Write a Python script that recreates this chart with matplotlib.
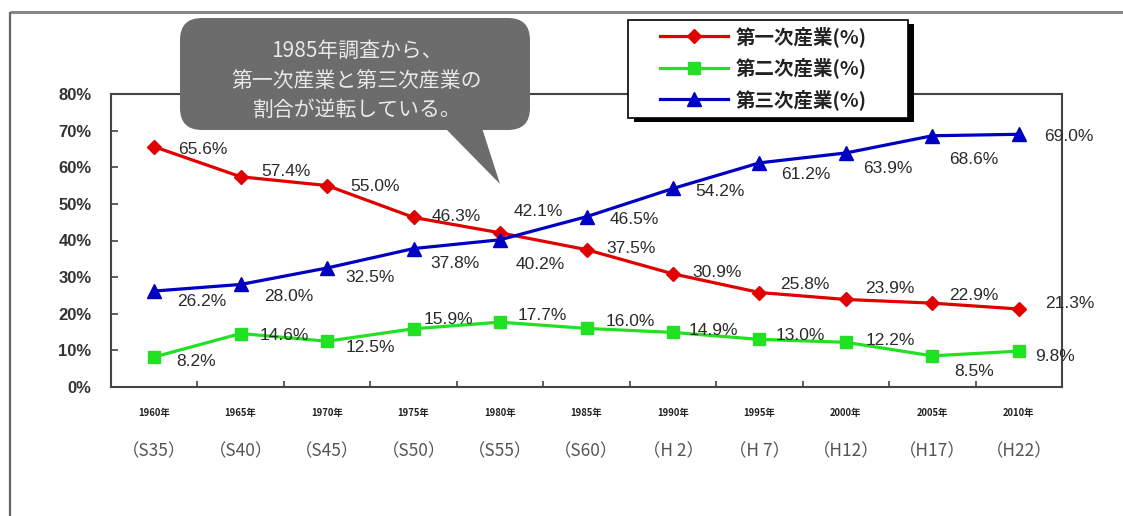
import matplotlib
matplotlib.use("Agg")
import matplotlib.pyplot as plt
from matplotlib.patches import FancyBboxPatch, Polygon, Rectangle
from matplotlib.transforms import blended_transform_factory

# ---------------- data ----------------
years = ["1960年", "1965年", "1970年", "1975年", "1980年", "1985年",
         "1990年", "1995年", "2000年", "2005年", "2010年"]
eras = ["（S35）", "（S40）", "（S45）", "（S50）", "（S55）", "（S60）",
        "（H 2）", "（H 7）", "（H12）", "（H17）", "（H22）"]
primary = [65.6, 57.4, 55.0, 46.3, 42.1, 37.5, 30.9, 25.8, 23.9, 22.9, 21.3]
secondary = [8.2, 14.6, 12.5, 15.9, 17.7, 16.0, 14.9, 13.0, 12.2, 8.5, 9.8]
tertiary = [26.2, 28.0, 32.5, 37.8, 40.2, 46.5, 54.2, 61.2, 63.9, 68.6, 69.0]
series_names = ["第一次産業(%)", "第二次産業(%)", "第三次産業(%)"]
yticks = [0, 10, 20, 30, 40, 50, 60, 70, 80]
callout_lines = ["1985年調査から、", "第一次産業と第三次産業の", "割合が逆転している。"]

# label offsets (pixels, +y = down) – layout only
off_primary = [(49, 3), (45, -5), (48, 1), (43, -1), (38, -21), (45, -1),
               (44, -1), (45, -8), (44, -11), (41, -8), (51, -5)]
off_secondary = [(42, 5), (44, 2), (43, 6), (35, -9), (42, -7), (44, -7),
                 (40, -2), (41, -4), (44, -2), (42, 16), (36, 5)]
off_tertiary = [(48, 10), (48, 12), (43, 10), (41, 15), (40, 25), (48, 3),
                (47, 3), (46, 12), (42, 16), (41, 24), (50, 2)]

W, H = 1123, 516
fig = plt.figure(figsize=(W / 100, H / 100), dpi=100)
fig.patch.set_facecolor("white")

ax = fig.add_axes([111 / W, 129 / H, 951 / W, 293 / H])
x = list(range(len(years)))

cols = ["#e00000", "#22e022", "#0000c0"]
markers = ["D", "s", "^"]
msizes = [7.5, 8, 9.5]
lines = []
for vals, c, m, ms, nm in zip([primary, secondary, tertiary], cols, markers, msizes, series_names):
    ln, = ax.plot(x, vals, color=c, lw=2.3, marker=m, ms=ms, mec=c, mfc=c, label=nm, zorder=3)
    lines.append(ln)

label_font = dict(family="Liberation Sans", size=12.5, color="#2a2a2a")
for vals, offs in zip([primary, secondary, tertiary], [off_primary, off_secondary, off_tertiary]):
    for xi, v, (dx, dy) in zip(x, vals, offs):
        ax.annotate(f"{v:.1f}%", (xi, v), xytext=(dx, -dy), textcoords="offset pixels",
                    ha="center", va="center", zorder=4, **label_font)

ax.set_xlim(-0.5, len(years) - 0.5)
ax.set_ylim(0, 80)
ax.set_yticks(yticks)
ax.set_yticklabels([f"{t}%" for t in yticks], family="Liberation Sans",
                   fontweight="bold", fontsize=12, color="#333333")
ax.tick_params(axis="y", direction="in", length=5, width=1.2, color="#444444", pad=14)
ax.set_xticks(x)
ax.set_xticklabels(years, family="Noto Sans CJK JP", fontweight="bold", fontsize=6.8, color="#222222")
ax.tick_params(axis="x", which="major", length=0, pad=15)
ax.set_xticks([i + 0.5 for i in x[:-1]], minor=True)
ax.tick_params(axis="x", which="minor", direction="in", length=4, width=1.2, color="#444444")
for s in ax.spines.values():
    s.set_color("#444444")
    s.set_linewidth(1.5)

tr = blended_transform_factory(ax.transData, fig.transFigure)
for xi, e in zip(x, eras):
    ax.text(xi, 1 - 451 / H, e, transform=tr, ha="center", va="center",
            family="Noto Sans CJK JP", fontsize=12.5, color="#555555")

# ---------------- overlay (pixel coordinates) ----------------
ov = fig.add_axes([0, 0, 1, 1], zorder=10)
ov.set_xlim(0, W)
ov.set_ylim(H, 0)
ov.axis("off")
ov.patch.set_alpha(0)

# outer frame
ov.plot([10, W], [12, 12], color="#888888", lw=2.2, solid_capstyle="butt")
ov.plot([10, 10], [12, H], color="#666666", lw=1.6, solid_capstyle="butt")

# callout bubble
bubble_col = "#6c6c6c"
ov.add_patch(FancyBboxPatch((180, 18), 350, 112, boxstyle="round,pad=0,rounding_size=22",
                            fc=bubble_col, ec="none", zorder=5))
ov.add_patch(Polygon([(445, 128), (482, 128), (500, 184)], closed=True,
                     fc=bubble_col, ec="none", zorder=5))
for yy, t in zip([51, 81, 110], callout_lines):
    ov.text(357, yy, t, ha="center", va="center", family="Noto Sans CJK JP",
            fontsize=15, color="#e8e8e8", zorder=6)

# legend box with shadow
ov.add_patch(Rectangle((634, 24), 280, 98, fc="black", ec="none", zorder=5))
ov.add_patch(Rectangle((628, 20), 280, 98, fc="white", ec="black", lw=1.2, zorder=6))
leg = ov.legend(handles=lines, loc="upper left", bbox_to_anchor=(660, 26),
                bbox_transform=ov.transData, frameon=False, borderpad=0,
                borderaxespad=0, handlelength=3.5, handletextpad=0.4,
                labelspacing=0.55, prop=dict(family="Noto Sans CJK JP", size=14, weight="bold"))
leg.set_zorder(7)
for t in leg.get_texts():
    t.set_color("#222222")

fig.savefig("out.png", dpi=100)
